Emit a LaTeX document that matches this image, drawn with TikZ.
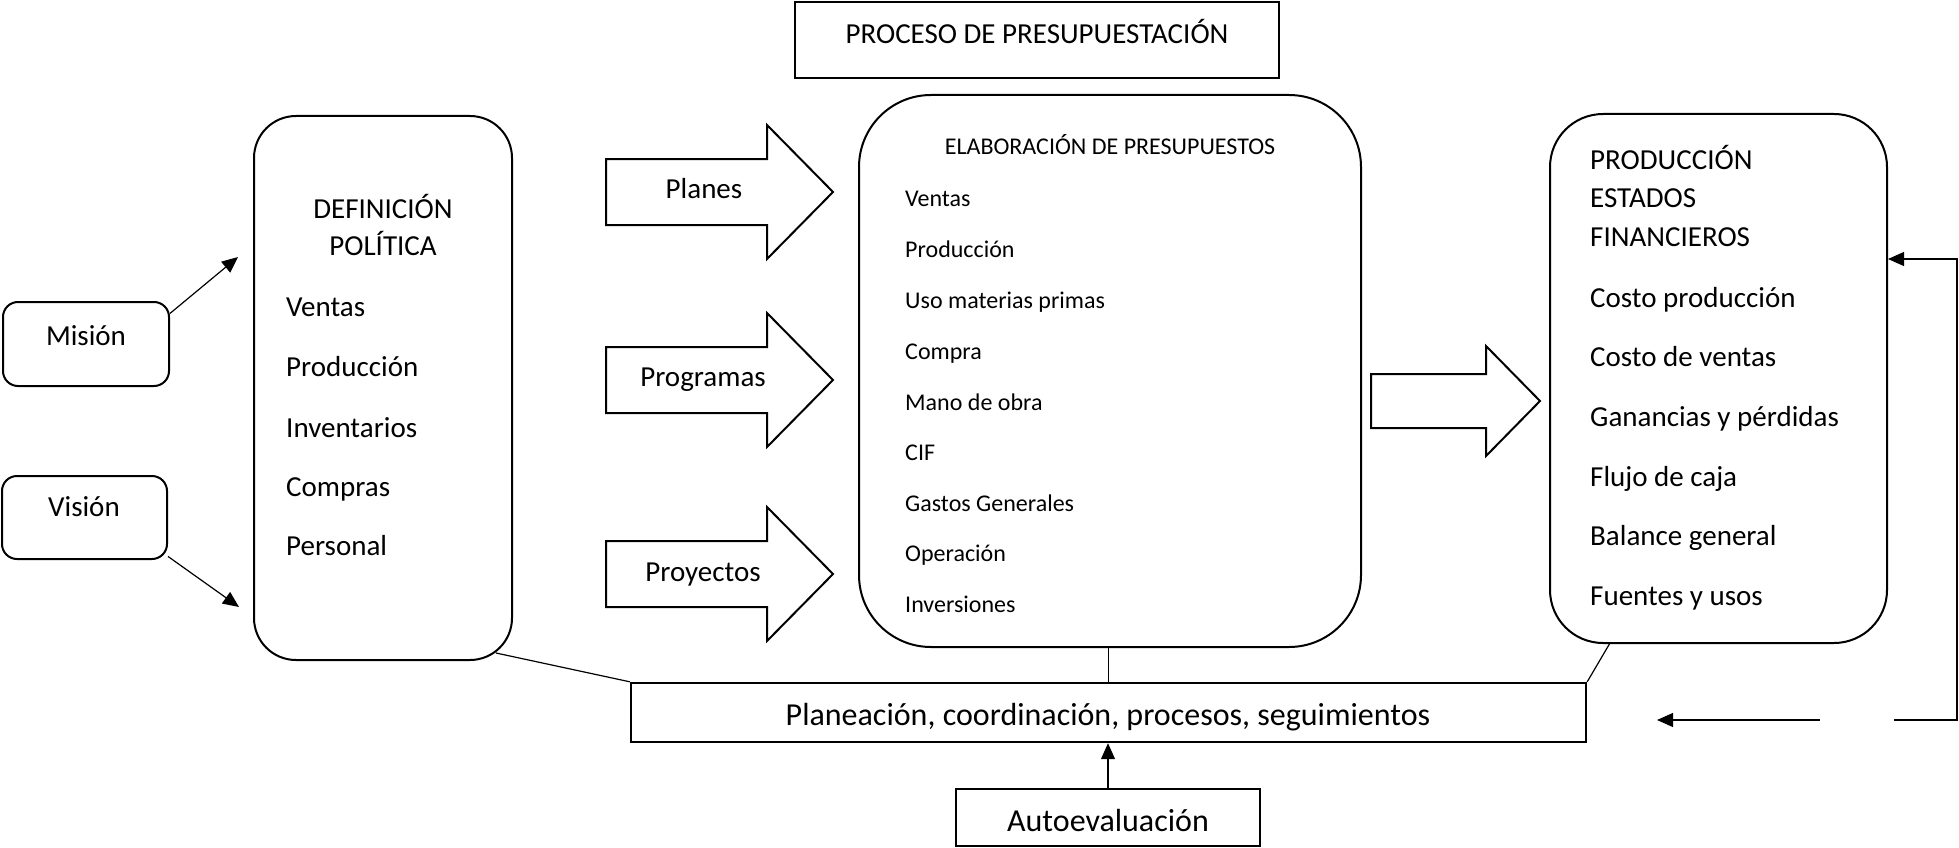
\documentclass[tikz,border=0pt]{standalone}
\usepackage{fontspec}
\setmainfont{Carlito}
\usetikzlibrary{arrows.meta,calc}
\begin{document}
\begin{tikzpicture}[x=1pt,y=-1pt,
  box/.style={draw,line width=2pt,inner sep=0pt},
  bigtxt/.style={inner sep=0pt,font=\fontsize{29}{35}\selectfont,text height=18.7pt,text depth=0pt},
  smalltxt/.style={inner sep=0pt,font=\fontsize{24}{29}\selectfont,text height=15.4pt,text depth=0pt},
  bottxt/.style={inner sep=0pt,font=\fontsize{32}{38}\selectfont,text height=20.6pt,text depth=0pt},
  blockarrow/.style={draw,line width=2pt,line join=miter},
  conn/.style={draw,line width=1.2pt},
  tip/.style={-{Triangle[length=16pt,width=14pt]}}
]
\useasboundingbox (0,0) rectangle (1959,848);

% title
\node[box,minimum width=484pt,minimum height=76pt] (title) at (1037,40) {};
\node[bigtxt] (titletext) at (1037,34) {PROCESO DE PRESUPUESTACIÓN};

% Mision / Vision
\node[box,rounded corners=15pt,minimum width=166pt,minimum height=84pt] (mision) at (86,344) {};
\node[bigtxt] (misiontext) at (86,336) {Misión};
\node[box,rounded corners=15pt,minimum width=165pt,minimum height=83pt] (vision) at (84.5,517.5) {};
\node[bigtxt] (visiontext) at (84,507) {Visión};

% Definicion politica
\node[box,rounded corners=42pt,minimum width=258pt,minimum height=544pt] (def) at (383,388) {};
\node[bigtxt] (d0) at (383,209) {DEFINICIÓN};
\node[bigtxt] (d1) at (383,246) {POLÍTICA};
\node[bigtxt,anchor=west] (d2) at (286,307) {Ventas};
\node[bigtxt,anchor=west] (d3) at (286,367) {Producción};
\node[bigtxt,anchor=west] (d4) at (286,428) {Inventarios};
\node[bigtxt,anchor=west] (d5) at (286,487) {Compras};
\node[bigtxt,anchor=west] (d6) at (286,546) {Personal};

% block arrows
\draw[blockarrow] (606,159) -- (767,159) -- (767,125) -- (833,192) -- (767,259) -- (767,225) -- (606,225) -- cycle;
\node[bigtxt] (planes) at (704,189) {Planes};
\draw[blockarrow] (606,347) -- (767,347) -- (767,313) -- (833,380) -- (767,447) -- (767,413) -- (606,413) -- cycle;
\node[bigtxt] (programas) at (703,377.5) {Programas};
\draw[blockarrow] (606,541) -- (767,541) -- (767,507) -- (833,574) -- (767,641) -- (767,607) -- (606,607) -- cycle;
\node[bigtxt] (proyectos) at (703,572.5) {Proyectos};
\draw[blockarrow] (1371,374) -- (1486,374) -- (1486,346) -- (1540,401) -- (1486,456) -- (1486,428) -- (1371,428) -- cycle;

% Elaboracion
\node[box,rounded corners=72pt,minimum width=502pt,minimum height=552pt] (elab) at (1110,371) {};
\node[smalltxt] (e0) at (1110,147) {ELABORACIÓN DE PRESUPUESTOS};
\node[smalltxt,anchor=west] (e1) at (905,199) {Ventas};
\node[smalltxt,anchor=west] (e2) at (905,250) {Producción};
\node[smalltxt,anchor=west] (e3) at (905,301) {Uso materias primas};
\node[smalltxt,anchor=west] (e4) at (905,352) {Compra};
\node[smalltxt,anchor=west] (e5) at (905,403) {Mano de obra};
\node[smalltxt,anchor=west] (e6) at (905,453) {CIF};
\node[smalltxt,anchor=west] (e7) at (905,504) {Gastos Generales};
\node[smalltxt,anchor=west] (e8) at (905,554) {Operación};
\node[smalltxt,anchor=west] (e9) at (905,605) {Inversiones};

% Produccion estados financieros
\node[box,rounded corners=53pt,minimum width=337pt,minimum height=529pt] (prod) at (1718.5,378.5) {};
\node[bigtxt,anchor=west] (p0) at (1590,160) {PRODUCCIÓN};
\node[bigtxt,anchor=west] (p1) at (1590,198) {ESTADOS};
\node[bigtxt,anchor=west] (p2) at (1590,237) {FINANCIEROS};
\node[bigtxt,anchor=west] (p3) at (1590,298) {Costo producción};
\node[bigtxt,anchor=west] (p4) at (1590,357) {Costo de ventas};
\node[bigtxt,anchor=west] (p5) at (1590,417) {Ganancias y pérdidas};
\node[bigtxt,anchor=west] (p6) at (1590,477) {Flujo de caja};
\node[bigtxt,anchor=west] (p7) at (1590,536) {Balance general};
\node[bigtxt,anchor=west] (p8) at (1590,596) {Fuentes y usos};

% bottom boxes
\node[box,line width=2.4pt,minimum width=955pt,minimum height=59pt] (plan) at (1108.5,712.5) {};
\node[bottxt] (plantext) at (1108,715) {Planeación, coordinación, procesos, seguimientos};
\node[box,line width=2.4pt,minimum width=304pt,minimum height=57pt] (auto) at (1108,817.5) {};
\node[bottxt] (autotext) at (1108,821) {Autoevaluación};

% connectors
\coordinate (mtip) at (238,257);
\coordinate (vtip) at (239,607);
\draw[conn,tip] (mision.20) -- (mtip);
\draw[conn,tip] (vision.-25) -- (vtip);

\coordinate (defc) at (496,653);
\draw[conn] (defc) -- (plan.north west);
\draw[conn] (plan.north) -- (plan.north |- elab.south);
\coordinate (prodc) at (1610,643);
\draw[conn] (prodc) -- (plan.north east);
\draw[conn,tip] (auto.north) -- (auto.north |- plan.south);

\coordinate (fbA) at (1894,720);
\coordinate (fbC) at (1957,259);
\draw[conn,tip] (fbA) -| (fbC) -- (fbC -| prod.east);
\coordinate (fbD) at (1820,720);
\coordinate (fbE) at (1657,720);
\draw[conn,tip] (fbD) -- (fbE);
\end{tikzpicture}
\end{document}
